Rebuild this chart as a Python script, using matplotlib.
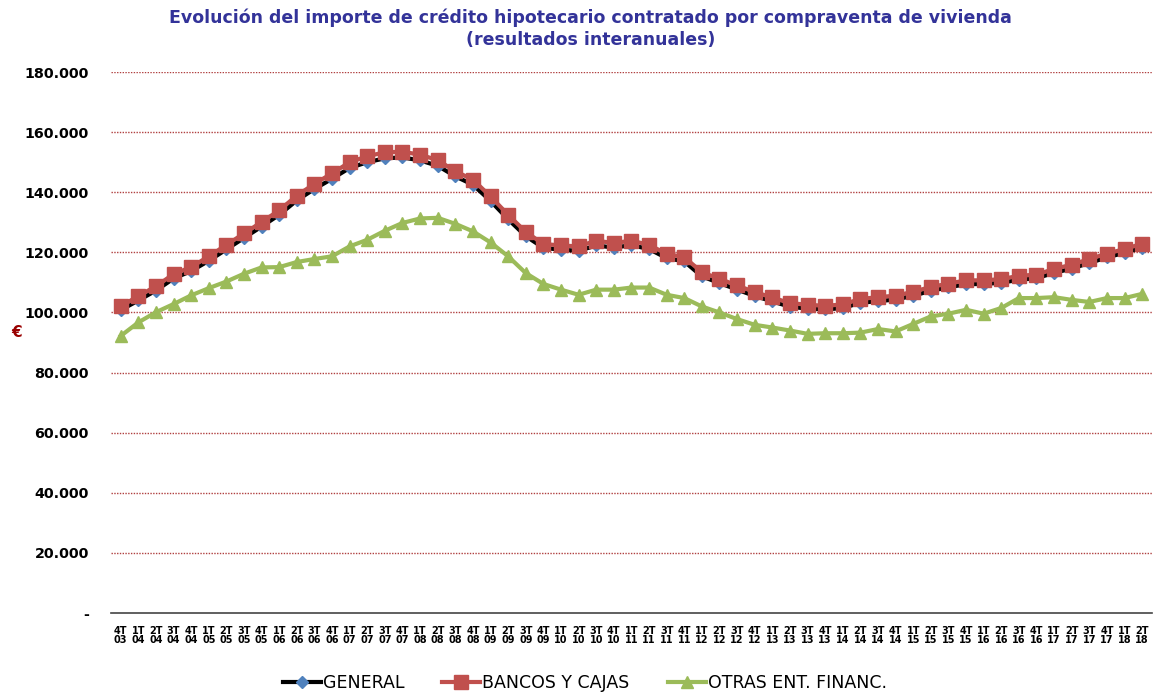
import numpy as np
import matplotlib.pyplot as plt
from matplotlib.lines import Line2D

# importe medio (miles de euros) por trimestre, 4T03 .. 2T18
years = ['03', '04', '05', '06', '07', '08', '09', '10', '11', '12',
         '13', '14', '15', '16', '17', '18']
periods = [('4T', '03')] + [(q, y) for y in years[1:-1] for q in ['1T', '2T', '3T', '4T']] + [('1T', '18'), ('2T', '18')]

general = [100.8, 104.0, 107.3, 111.3, 113.8, 117.2, 121.0, 124.8, 128.6, 132.5,
           137.3, 141.1, 144.5, 148.1, 150.0, 151.3, 151.6, 150.6, 148.8, 145.3,
           142.5, 137.1, 131.0, 125.4, 121.5, 120.9, 120.5, 122.3, 121.6, 122.4,
           121.1, 118.1, 117.0, 112.0, 109.8, 107.6, 105.5, 103.7, 101.9, 101.3,
           101.0, 101.5, 103.2, 103.8, 104.3, 105.6, 107.2, 108.4, 109.4, 109.5,
           109.9, 110.9, 111.4, 113.2, 114.6, 116.5, 118.3, 119.9, 121.6]
bancos = [102.0, 105.5, 108.7, 112.8, 115.1, 118.7, 122.5, 126.3, 130.1, 134.0,
          138.9, 142.8, 146.3, 150.0, 152.0, 153.3, 153.5, 152.5, 150.7, 147.0,
          144.2, 138.6, 132.5, 126.8, 122.8, 122.3, 122.0, 123.9, 123.1, 123.9,
          122.5, 119.5, 118.4, 113.4, 111.2, 109.0, 106.8, 105.0, 103.1, 102.6,
          102.2, 102.7, 104.5, 105.1, 105.6, 106.9, 108.5, 109.6, 110.7, 110.7,
          111.1, 112.2, 112.6, 114.5, 115.9, 117.8, 119.6, 121.1, 122.9]
otras = [92.2, 96.7, 100.1, 102.8, 105.7, 108.1, 110.3, 112.9, 115.0, 115.1,
         116.8, 117.8, 118.7, 122.0, 124.2, 127.2, 129.8, 131.3, 131.5, 129.5,
         127.0, 123.3, 118.7, 113.1, 109.5, 107.6, 105.9, 107.6, 107.6, 108.3,
         108.3, 105.9, 104.8, 102.0, 100.0, 97.8, 95.9, 95.0, 94.0, 92.9,
         93.1, 93.1, 93.3, 94.5, 93.7, 96.2, 98.7, 99.6, 100.9, 99.6,
         101.5, 104.8, 104.8, 105.1, 104.2, 103.5, 104.8, 104.8, 106.2]
yticks = [0, 20, 40, 60, 80, 100, 120, 140, 160, 180]

x = np.arange(len(periods))

fig = plt.figure(figsize=(11.53, 6.93), dpi=100)
ax = fig.add_axes([0.0963, 0.1154, 0.9027, 0.7806])

ax.plot(x, general, color='black', lw=3, marker='D', ms=6,
        mfc='#4F81BD', mec='#4F81BD', zorder=3)
ax.plot(x, bancos, color='#C0504D', lw=3, marker='s', ms=9.5,
        mfc='#C0504D', mec='#C0504D', zorder=4)
ax.plot(x, otras, color='#9BBB59', lw=3, marker='^', ms=9,
        mfc='#9BBB59', mec='#9BBB59', zorder=5)

ax.set_xlim(-0.55, len(periods) - 0.45)
ax.set_ylim(0, 180)
ax.set_yticks(yticks)
ax.set_yticklabels(['-'] + [f'{v}.000' for v in yticks[1:]],
                   fontsize=10.3, fontweight='bold')
ax.set_xticks(x)
ax.set_xticklabels([f'{q}\n{y}' for q, y in periods], fontsize=7,
                   fontweight='bold', linespacing=0.95)
ax.tick_params(axis='y', length=0, pad=16)
ax.tick_params(axis='x', length=0, pad=9)

for v in yticks[1:]:
    ax.axhline(v, color='#B04040', lw=1, ls=(0, (1, 1)), zorder=1)

for s in ['top', 'right', 'left']:
    ax.spines[s].set_visible(False)
ax.spines['bottom'].set_color('#444444')
ax.spines['bottom'].set_linewidth(1.2)

fig.text(0.512, 0.975, 'Evolución del importe de crédito hipotecario contratado por compraventa de vivienda',
         ha='center', va='center', fontsize=12.5, fontweight='bold', color='#333399')
fig.text(0.512, 0.942, '(resultados interanuales)',
         ha='center', va='center', fontsize=12.5, fontweight='bold', color='#333399')
fig.text(0.014, 0.52, '€', ha='center', va='center', fontsize=11,
         fontweight='bold', color='#990000')

handles = [
    Line2D([], [], color='black', lw=3, marker='D', ms=6, mfc='#4F81BD', mec='#4F81BD'),
    Line2D([], [], color='#C0504D', lw=3, marker='s', ms=9.5),
    Line2D([], [], color='#9BBB59', lw=3, marker='^', ms=9),
]
fig.legend(handles, ['GENERAL', 'BANCOS Y CAJAS', 'OTRAS ENT. FINANC.'],
           loc='center', bbox_to_anchor=(0.507, 0.014), ncol=3, frameon=False,
           prop={'family': ['Liberation Sans Narrow', 'DejaVu Sans'], 'size': 12.5},
           handlelength=2.2, handletextpad=0.1, columnspacing=2.2)

fig.savefig('out.png', dpi=100)
